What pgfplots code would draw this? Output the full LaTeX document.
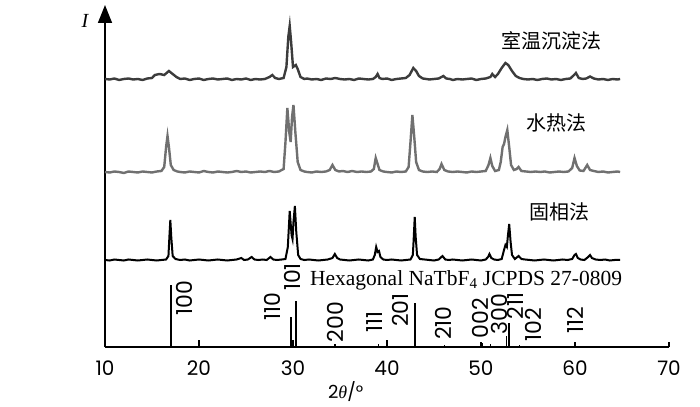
\documentclass[border=0pt]{standalone}
\usepackage{fontspec}
\setmainfont{Liberation Serif}
\newfontfamily\cjk{Noto Sans CJK SC}
\newfontfamily\gsans{Poppins}
\usepackage{pgfplots}
\pgfplotsset{compat=1.18}
\usetikzlibrary{arrows.meta}
\definecolor{topc}{HTML}{3C3C3C}
\definecolor{midc}{HTML}{707070}
\begin{document}
\begin{tikzpicture}
\begin{axis}[name=ax,
  scale only axis, width=564bp, height=342bp,
  xmin=10, xmax=70, ymin=0, ymax=342,
  axis x line=bottom, axis y line=left,
  x axis line style={-, line width=1.5bp},
  y axis line style={-{Triangle[width=14bp,length=18bp]}, line width=1.5bp},
  xtick={10,20,...,70}, ytick=\empty,
  tick align=inside, major tick length=5bp,
  tick style={line width=1.2bp, black},
  /pgf/number format/assume math mode=true,
  xticklabel style={font=\gsans\fontsize{20bp}{24bp}\selectfont, yshift=-10bp},
  clip=false]
% top: 室温沉淀法
\addplot[topc, line width=2.4bp] coordinates {
(10.0,268) (10.5,267.5) (11,268.5) (11.5,267) (12,268) (12.5,268.5) (13,267.5) (13.5,268) (14,267) (14.5,268.5) (15,269) (15.3,272) (15.8,273) (16.3,272) (16.8,276) (17.2,273) (17.6,270) (18,268) (18.5,268.5) (19,267) (19.5,268) (20,268.5) (20.5,267) (21,268) (21.5,268.5) (22,267.5) (22.5,268) (23,268.5) (23.5,267) (24,268) (24.5,267.5) (25,268.5) (25.5,267) (26,268) (26.5,267.5) (27,268) (27.5,270) (27.8,272) (28.1,269) (28.5,268) (29.0,269) (29.3,280) (29.5,310) (29.65,321) (29.8,305) (30.0,280) (30.3,282) (30.5,278) (30.8,270) (31.2,268) (31.5,268.5) (32,267.5) (32.5,268) (33,267) (33.5,268.5) (34,268) (34.5,269) (35,268) (35.5,267.5) (36,268) (36.5,267) (37,268.5) (37.5,268) (38,267.5) (38.5,268) (38.8,270) (39.0,273) (39.2,269) (39.5,268) (40,268.5) (40.5,267) (41,268) (41.5,268.5) (42,269) (42.4,272) (42.8,279) (43.1,276) (43.4,271) (43.8,268.5) (44.2,268) (44.5,267.5) (45,268) (45.5,268.5) (46,271) (46.3,268.5) (46.7,268) (47,267) (47.5,268) (48,267.5) (48.5,268) (49,268.5) (49.5,267) (50,268) (50.5,268.5) (51,270) (51.2,273) (51.5,270) (51.8,273) (52.2,279) (52.6,284) (52.9,282) (53.3,276) (53.7,271) (54.1,269) (54.5,268) (55,267.5) (55.5,268) (56,267) (56.5,268) (57,268.5) (57.5,267.5) (58,268) (58.5,267) (59,268) (59.5,268.5) (59.9,272) (60.1,274) (60.4,269) (60.8,268) (61.2,268.5) (61.6,270.5) (62,268.5) (62.5,267.5) (63,268) (63.5,267) (64,268) (64.5,267.5) (64.8,268)};
% middle: 水热法
\addplot[midc, line width=2.4bp] coordinates {
(10,175) (10.5,174.5) (11,175.5) (11.5,175) (12,174) (12.5,175.5) (13,175) (13.5,174.5) (14,175.5) (14.5,175) (15,174.5) (15.5,175.5) (16,176) (16.3,180) (16.5,200) (16.65,211) (16.8,200) (17.0,182) (17.3,177) (17.7,175.5) (18,175) (18.5,174.5) (19,175.5) (19.5,175) (20,174.5) (20.5,176) (21,175) (21.5,174.5) (22,175.5) (22.5,175) (23,174.5) (23.5,175) (24,176) (24.5,175) (25,175.5) (25.5,174.5) (26,175) (26.5,175.5) (27,175) (27.5,176) (28,175) (28.5,175.5) (29.0,178) (29.2,205) (29.4,239) (29.6,215) (29.75,205) (29.9,230) (30.05,242) (30.25,215) (30.5,185) (30.8,177) (31.2,175.5) (31.5,175) (32,174.5) (32.5,175.5) (33,175) (33.5,175.5) (33.9,177) (34.2,182) (34.5,177) (34.9,175.5) (35.3,176) (35.8,175) (36.3,176) (36.8,175) (37.3,175.5) (37.8,175) (38.3,175.5) (38.6,178) (38.8,189) (39.0,183) (39.2,177) (39.6,175.5) (40,175) (40.5,174.5) (41,175.5) (41.5,175) (42,175.5) (42.3,180) (42.5,205) (42.7,232) (42.9,210) (43.1,185) (43.4,177) (43.8,175.5) (44.3,175) (44.8,175.5) (45.3,175) (45.6,178) (45.8,183) (46.1,177) (46.5,175.5) (47,175) (47.5,175.5) (48,175) (48.5,174.5) (49,175.5) (49.5,175) (50,175.5) (50.5,176) (50.8,182) (51.0,189) (51.2,181) (51.5,176) (51.9,177) (52.1,185) (52.3,200) (52.45,203) (52.6,210) (52.8,217) (53.0,200) (53.2,182) (53.5,177) (53.8,178) (54.0,180) (54.3,176) (54.8,175.5) (55.3,175) (55.8,175.5) (56.3,175) (56.8,175.5) (57.3,174.5) (57.8,175) (58.3,175.5) (58.8,175) (59.3,175.5) (59.7,179) (59.95,189) (60.2,181) (60.5,176.5) (60.9,176) (61.3,182) (61.6,177) (62,176) (62.5,175) (63,175.5) (63.5,174.5) (64,175) (64.5,175.5) (64.8,175)};
% bottom: 固相法
\addplot[black, line width=2bp] coordinates {
(10,87) (10.5,86.5) (11,87.5) (11.5,87) (12,86.5) (12.5,87.5) (13,87) (13.5,86.5) (14,87) (14.5,87.5) (15,87) (15.5,86.5) (16,87) (16.5,87.5) (16.75,91) (16.85,110) (16.95,127) (17.05,110) (17.2,91) (17.5,88) (18,87) (18.5,87.5) (19,86.5) (19.5,87) (20,87.5) (20.5,87) (21,86.5) (21.5,87) (22,87.5) (22.5,87) (23,86.5) (23.5,87) (24,87.5) (24.5,89) (24.8,87) (25.2,87.5) (25.6,90) (25.9,87.5) (26.3,87) (26.8,87.5) (27.2,87) (27.6,90) (27.9,87.5) (28.3,87) (28.8,87.5) (29.2,88) (29.45,100) (29.65,136) (29.85,112) (29.95,108) (30.05,125) (30.2,141) (30.35,115) (30.55,92) (30.8,88) (31.2,87) (31.7,87.5) (32.2,87) (32.7,86.5) (33.2,87) (33.7,87.5) (34.2,89) (34.45,93) (34.7,89) (35,87.5) (35.5,87) (36,86.5) (36.5,87) (37,87.5) (37.5,87) (38,86.5) (38.5,87.5) (38.7,92) (38.85,100) (39.0,95) (39.15,96) (39.3,90) (39.6,87.5) (40,87) (40.5,87.5) (41,87) (41.5,86.5) (42,87) (42.5,87.5) (42.75,92) (42.85,110) (42.95,130) (43.05,110) (43.2,92) (43.5,88) (44,87.5) (44.5,87) (45,86.5) (45.5,87.5) (45.9,91) (46.2,87.5) (46.6,87) (47,87.5) (47.5,87) (48,86.5) (48.5,87) (49,87.5) (49.5,87) (50,86.5) (50.5,87.5) (50.75,90) (50.9,93) (51.1,89) (51.4,87.5) (51.8,87) (52.2,88) (52.45,97) (52.6,102) (52.75,100) (52.85,110) (53.0,123) (53.15,105) (53.3,92) (53.6,88) (54.0,91) (54.3,88) (54.7,87.5) (55.2,87) (55.7,86.5) (56.2,87) (56.7,87.5) (57.2,87) (57.7,86.5) (58.2,87) (58.7,87.5) (59.2,87) (59.7,88) (59.95,92) (60.1,93) (60.3,89) (60.6,87.5) (61,87) (61.4,90) (61.6,92) (61.8,89) (62.2,87.5) (62.7,87) (63.2,87.5) (63.7,86.5) (64.2,87) (64.8,87)};
% reference sticks
\addplot[ycomb, black, line width=1.6bp, mark=none] coordinates {
(17.0,62) (20.0,7) (29.8,30) (30.0,7) (30.3,46) (34.5,3) (39.1,3) (40.0,7) (43.0,44) (46.1,2) (50.1,4) (51.0,3) (52.7,11) (53.0,24) (54.1,2) (60.0,5)};
% labels
\node[font=\cjk\fontsize{20bp}{24bp}\selectfont] at (axis cs:57.55,306) {室温沉淀法};
\node[font=\cjk\fontsize{20bp}{24bp}\selectfont] at (axis cs:58.0,224) {水热法};
\node[font=\cjk\fontsize{20bp}{24bp}\selectfont] at (axis cs:58.4,135) {固相法};
\node[font=\fontsize{21.5bp}{24bp}\selectfont, anchor=base west, inner sep=0pt] at (axis cs:31.8,62) {Hexagonal NaTbF\textsubscript{4} JCPDS 27-0809};
\begin{scope}[every node/.style={font=\gsans\fontsize{22bp}{26bp}\selectfont, rotate=90, inner sep=0pt}]
\node at (axis cs:18.5,49) {100};
\node at (axis cs:27.8,40) {110};
\node at (axis cs:29.9,70) {101};
\node at (axis cs:34.5,25) {200};
\node at (axis cs:38.7,25) {111};
\node at (axis cs:41.4,37) {201};
\node at (axis cs:46.0,24) {210};
\node at (axis cs:49.9,29) {002};
\node at (axis cs:52.0,33) {300};
\node at (axis cs:53.7,41) {211};
\node at (axis cs:55.6,22) {102};
\node at (axis cs:60.0,27) {112};
\end{scope}
\node[font=\gsans\fontsize{18bp}{22bp}\selectfont, inner sep=1pt] at (axis cs:35.6,-45) {2{\rmfamily\itshape θ}/°};
\node[font=\itshape\fontsize{20bp}{24bp}\selectfont] at (axis cs:7.87,326) {I};
\end{axis}
\pgfresetboundingbox
\path[use as bounding box] ([shift={(-105bp,-60bp)}]ax.south west) rectangle ([shift={(595bp,347bp)}]ax.south west);
\end{tikzpicture}
\end{document}
